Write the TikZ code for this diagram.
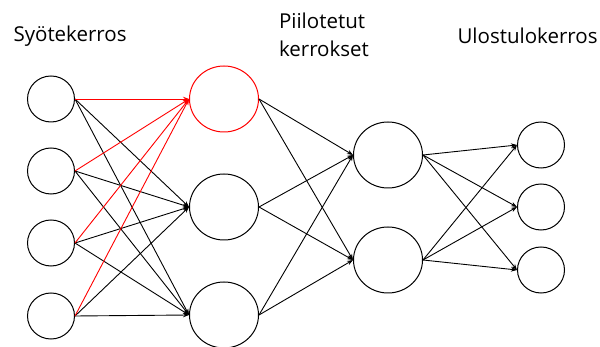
\documentclass[tikz,border=0pt]{standalone}
\usepackage{fontspec}
\setmainfont{Open Sans}
\usetikzlibrary{arrows.meta,shapes.geometric}

\tikzset{
  neuron/.style={draw,ellipse,line width=1pt,inner sep=0pt,minimum width=47pt,minimum height=46pt},
  bigneuron/.style={neuron,minimum width=69pt,minimum height=66pt},
  link/.style={line width=0.9pt,-{Stealth[length=6pt,width=4.5pt]}},
  layertitle/.style={anchor=base west,align=left,font=\fontsize{20.5}{28.4}\selectfont}
}

\begin{document}
\begin{tikzpicture}[x=1pt,y=-1pt]
\useasboundingbox (0,0) rectangle (600,347);
%input layer
\node[neuron] (i1) at (51,99) {};
\node[neuron] (i2) at (51,171) {};
\node[neuron] (i3) at (51,243) {};
\node[neuron] (i4) at (51,316) {};
%hidden layers
\node[bigneuron,red] (h1) at (224,99) {};
\node[bigneuron] (h2) at (224,207) {};
\node[bigneuron] (h3) at (224,315) {};
\node[bigneuron] (g1) at (388,155) {};
\node[bigneuron] (g2) at (388,260) {};
%output layer
\node[neuron] (o1) at (541,145) {};
\node[neuron] (o2) at (541,207) {};
\node[neuron] (o3) at (541,270) {};
%titles
\node[layertitle] (t1) at (10,42) {Syötekerros};
\node[layertitle] (t2) at (275.5,56.7) {Piilotetut\\kerrokset};
\node[layertitle] (t3) at (454,44) {Ulostulokerros};
%connections
\foreach \a in {i1,i2,i3,i4} {
  \foreach \b in {h2,h3} \draw[link] (\a.east) -- (\b.west);
  \draw[link,red] (\a.east) -- (h1.west);
}
\foreach \a in {h1,h2,h3} \foreach \b in {g1,g2} \draw[link] (\a.east) -- (\b.west);
\foreach \a in {g1,g2} \foreach \b in {o1,o2,o3} \draw[link] (\a.east) -- (\b.west);
\end{tikzpicture}
\end{document}
